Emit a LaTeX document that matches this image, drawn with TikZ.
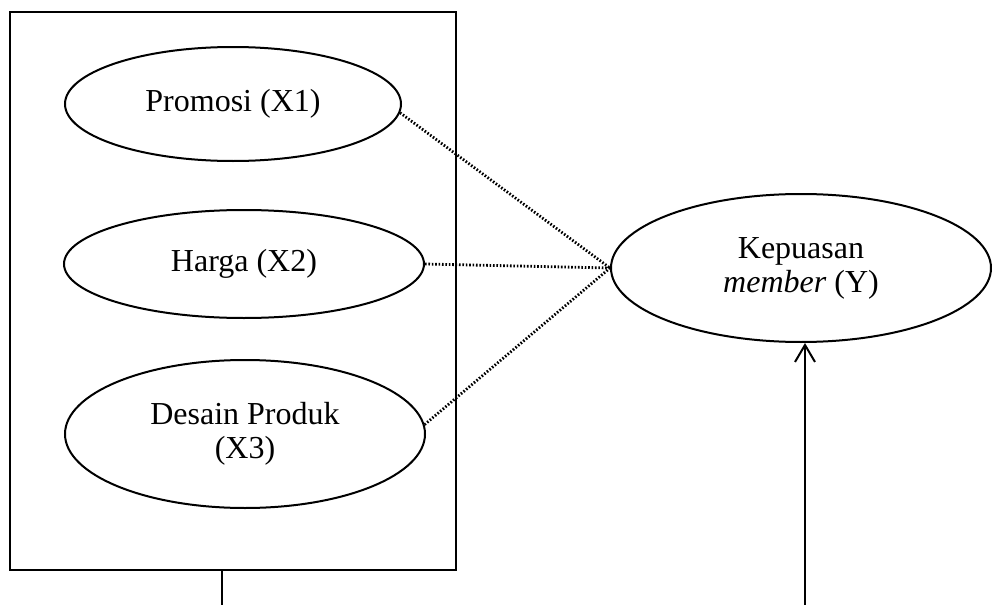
\documentclass[tikz,border=0pt]{standalone}
\usepackage{fontspec}
\setmainfont{Liberation Serif}
\usetikzlibrary{shapes.geometric,arrows.meta}
\tikzset{
  var/.style={draw, ellipse, line width=1pt, inner sep=0pt, align=center,
    font=\fontsize{16pt}{17pt}\selectfont},
  link/.style={line width=1.4pt, dash pattern=on 0.8pt off 0.9pt},
}
\begin{document}
\begin{tikzpicture}[x=0.5pt,y=-0.5pt]
\useasboundingbox (0,0) rectangle (992,605);

% 枠
\node[draw, line width=1.2pt, minimum width=223pt, minimum height=279pt, inner sep=0pt] (box) at (233,291) {};

% X1
\node[var, minimum width=168pt, minimum height=57pt] (prom) at (233,104) {Promosi (X1)};

% X2
\node[var, minimum width=180pt, minimum height=54pt] (harga) at (244,264) {Harga (X2)};

% X3
\node[var, minimum width=180pt, minimum height=74pt] (desain) at (245,434) {Desain Produk\\(X3)};

% Y
\node[var, minimum width=190pt, minimum height=74pt] (kep) at (801,268) {Kepuasan\\\textit{member} (Y)};

% X--Y
\draw[link] (prom.-3)--(kep.west);
\draw[link] (harga.east)--(kep.west);
\draw[link] (desain.3)--(kep.west);

% 下の線
\coordinate (xbot) at (222,605);
\coordinate (ybot) at (805,605);
\draw[line width=1pt] (xbot |- box.south)--(xbot);
\draw[line width=1pt, -{Straight Barb[length=8.5pt,width=10pt]}] (ybot)--(ybot |- kep.south);
\end{tikzpicture}
\end{document}
